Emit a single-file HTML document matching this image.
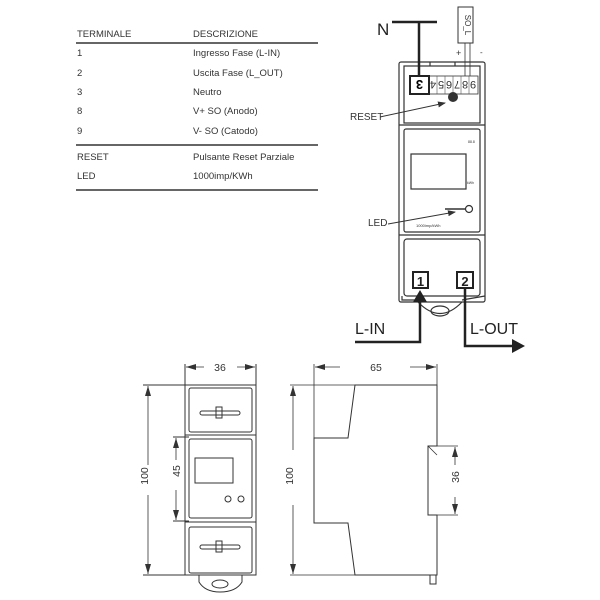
<!DOCTYPE html>
<html><head><meta charset="utf-8"><style>
html,body{margin:0;padding:0;background:#fff;}
svg{display:block;font-family:"Liberation Sans",sans-serif;}
</style></head><body>
<svg width="600" height="600" viewBox="0 0 600 600" xmlns="http://www.w3.org/2000/svg">
<defs>
<marker id="ah" markerWidth="8" markerHeight="6" refX="7" refY="3" orient="auto" markerUnits="userSpaceOnUse"><path d="M0,0 L8,3 L0,6z" fill="#333"/></marker>
<marker id="dm" markerWidth="10" markerHeight="6" refX="10" refY="3" orient="auto" markerUnits="userSpaceOnUse"><path d="M0,0 L10,3 L0,6z" fill="#333"/></marker>
</defs>
<g font-size="9.5" fill="#333">
<text x="77" y="37">TERMINALE</text><text x="193" y="37">DESCRIZIONE</text>
<line x1="76" y1="43" x2="318" y2="43" stroke="#333" stroke-width="1.5"/>
<text x="77" y="56">1</text><text x="193" y="56">Ingresso Fase (L-IN)</text>
<text x="77" y="76">2</text><text x="193" y="76">Uscita Fase (L_OUT)</text>
<text x="77" y="95">3</text><text x="193" y="95">Neutro</text>
<text x="77" y="114">8</text><text x="193" y="114">V+ SO (Anodo)</text>
<text x="77" y="134">9</text><text x="193" y="134">V- SO (Catodo)</text>
<line x1="76" y1="145" x2="318" y2="145" stroke="#333" stroke-width="1.5"/>
<text x="77" y="160">RESET</text><text x="193" y="160">Pulsante Reset Parziale</text>
<text x="77" y="179">LED</text><text x="193" y="179">1000imp/KWh</text>
<line x1="76" y1="190" x2="318" y2="190" stroke="#333" stroke-width="1.5"/>
</g>
<g fill="none" stroke="#333" stroke-width="1.2">
<rect x="399" y="62" width="86" height="240" rx="2"/>
<rect x="404" y="66" width="76" height="57"/>
<rect x="404" y="129" width="76" height="103" rx="2"/>
<rect x="411" y="154" width="55" height="35"/>
<rect x="404" y="239" width="76" height="57" rx="3"/>
<line x1="399" y1="125" x2="485" y2="125"/>
<line x1="399" y1="235" x2="485" y2="235"/>
<line x1="430" y1="62" x2="430" y2="66"/><line x1="455" y1="62" x2="455" y2="66"/>
<rect x="429" y="76" width="49" height="18" stroke-width="0.8"/>
<circle cx="469" cy="209" r="3.5"/>
<path d="M418,302 Q440,325 462,302"/>
<ellipse cx="440" cy="311" rx="9" ry="5"/>
<path d="M402,296 L402,300 L418,300 M485,296 L462,300"/>
</g>
<g stroke="#555" stroke-width="0.6">
<line x1="437" y1="76" x2="437" y2="94"/><line x1="445" y1="76" x2="445" y2="94"/><line x1="453" y1="76" x2="453" y2="94"/><line x1="461" y1="76" x2="461" y2="94"/><line x1="469" y1="76" x2="469" y2="94"/>
</g>
<g font-size="11" fill="#333" text-anchor="middle">
<text transform="translate(433,85) rotate(180)" y="4">4</text>
<text transform="translate(441,85) rotate(180)" y="4">5</text>
<text transform="translate(449,85) rotate(180)" y="4">6</text>
<text transform="translate(457,85) rotate(180)" y="4">7</text>
<text transform="translate(465,85) rotate(180)" y="4">8</text>
<text transform="translate(473,85) rotate(180)" y="4">9</text>
</g>
<rect x="410" y="76" width="19" height="18" fill="#fff" stroke="#222" stroke-width="2"/>
<text font-size="13" font-weight="bold" text-anchor="middle" transform="translate(419.5,85) rotate(180)" y="5">3</text>
<circle cx="453" cy="97" r="5" fill="#333"/>
<text x="468" y="143" font-size="3.5" fill="#333">88.8</text>
<text x="467" y="184" font-size="3.5" fill="#333">kWh</text>
<text x="416" y="227" font-size="4" fill="#333">1000imp/kWh</text>
<line x1="445" y1="209" x2="465" y2="209" stroke="#333" stroke-width="1.5"/>
<text x="377" y="35" font-size="17" fill="#222">N</text>
<line x1="392" y1="22" x2="437" y2="22" stroke="#222" stroke-width="2.5"/>
<line x1="419" y1="22" x2="419" y2="76" stroke="#222" stroke-width="2.5"/>
<rect x="458" y="7" width="15" height="36" fill="#fff" stroke="#333"/>
<text x="465" y="25" font-size="8" fill="#333" text-anchor="middle" transform="rotate(90 465 25)">SO_L</text>
<line x1="465" y1="43" x2="465" y2="76" stroke="#333" stroke-width="0.8"/>
<line x1="470" y1="43" x2="470" y2="76" stroke="#333" stroke-width="0.8"/>
<text x="456" y="56" font-size="9" fill="#333">+</text><text x="480" y="55" font-size="8" fill="#333">-</text>
<text x="350" y="120" font-size="10" fill="#333">RESET</text>
<line x1="380" y1="117" x2="445" y2="103" stroke="#333" marker-end="url(#ah)"/>
<text x="368" y="226" font-size="10" fill="#333">LED</text>
<line x1="388" y1="224" x2="455" y2="212" stroke="#333" marker-end="url(#ah)"/>
<rect x="413" y="272" width="15" height="16" fill="#fff" stroke="#222" stroke-width="2"/>
<text x="420.5" y="286" font-size="13" font-weight="bold" text-anchor="middle" fill="#222">1</text>
<rect x="457" y="272" width="16" height="16" fill="#fff" stroke="#222" stroke-width="2"/>
<text x="465" y="286" font-size="13" font-weight="bold" text-anchor="middle" fill="#222">2</text>
<path d="M355,342 L420,342 L420,300" fill="none" stroke="#222" stroke-width="2.5"/>
<path d="M413,302 L420,290 L427,302z" fill="#222"/>
<text x="355" y="334" font-size="16" fill="#222">L-IN</text>
<path d="M465,289 L465,346 L515,346" fill="none" stroke="#222" stroke-width="2.5"/>
<path d="M512,339 L525,346 L512,353z" fill="#222"/>
<text x="470" y="334" font-size="16" fill="#222">L-OUT</text>
<g fill="none" stroke="#333" stroke-width="1">
<rect x="185" y="385" width="71" height="190"/>
<rect x="189" y="388" width="63" height="44" rx="2"/>
<rect x="189" y="439" width="63" height="79" rx="2"/>
<rect x="189" y="527" width="63" height="46" rx="2"/>
<line x1="185" y1="435" x2="256" y2="435"/><line x1="185" y1="522" x2="256" y2="522"/>
<rect x="195" y="458" width="38" height="25"/>
<circle cx="228" cy="499" r="3"/><circle cx="241" cy="499" r="3"/>
<rect x="200" y="411" width="40" height="4" rx="2"/><rect x="216" y="407" width="6" height="11"/>
<rect x="200" y="545" width="40" height="4" rx="2"/><rect x="216" y="541" width="6" height="11"/>
<path d="M199,575 L199,582 Q205,592 220,592 Q236,592 242,582 L242,575"/>
<ellipse cx="220" cy="584" rx="8" ry="4"/>
<line x1="185" y1="364" x2="185" y2="385"/><line x1="256" y1="364" x2="256" y2="385"/>
<line x1="143" y1="385" x2="185" y2="385"/><line x1="143" y1="575" x2="185" y2="575"/>
<line x1="173" y1="437" x2="189" y2="437"/><line x1="173" y1="521" x2="189" y2="521"/>
</g>
<g stroke="#333" stroke-width="0.8" fill="none">
<line x1="204" y1="367" x2="186" y2="367" marker-end="url(#dm)"/><line x1="237" y1="367" x2="255" y2="367" marker-end="url(#dm)"/>
<line x1="148" y1="465" x2="148" y2="386" marker-end="url(#dm)"/><line x1="148" y1="495" x2="148" y2="574" marker-end="url(#dm)"/>
<line x1="176" y1="460" x2="176" y2="438" marker-end="url(#dm)"/><line x1="176" y1="490" x2="176" y2="520" marker-end="url(#dm)"/>
<line x1="314" y1="364" x2="314" y2="438"/><line x1="437" y1="364" x2="437" y2="385"/>
<line x1="340" y1="367" x2="315" y2="367" marker-end="url(#dm)"/><line x1="410" y1="367" x2="436" y2="367" marker-end="url(#dm)"/>
<line x1="290" y1="385" x2="355" y2="385"/><line x1="290" y1="575" x2="355" y2="575"/>
<line x1="293" y1="450" x2="293" y2="386" marker-end="url(#dm)"/><line x1="293" y1="505" x2="293" y2="574" marker-end="url(#dm)"/>
<line x1="437" y1="446" x2="458" y2="446"/><line x1="437" y1="515" x2="458" y2="515"/>
<line x1="455" y1="465" x2="455" y2="447" marker-end="url(#dm)"/><line x1="455" y1="497" x2="455" y2="514" marker-end="url(#dm)"/>
</g>
<path d="M355,385 L437,385 L437,446 L428,446 L428,515 L437,515 L437,575 L355,575 L348,523 L314,523 L314,438 L348,438 Z" fill="none" stroke="#333" stroke-width="1"/>
<line x1="428" y1="446" x2="437" y2="455" stroke="#333" stroke-width="0.8"/>
<path d="M430,575 L430,584 L436,584 L436,575" fill="none" stroke="#333"/>
<g font-size="10.5" fill="#333" text-anchor="middle">
<text x="220" y="371">36</text>
<text x="376" y="371">65</text>
<text x="152" y="480" transform="rotate(-90 148 480)">100</text>
<text x="180" y="479" transform="rotate(-90 176 475)">45</text>
<text x="297" y="480" transform="rotate(-90 293 480)">100</text>
<text x="459" y="485" transform="rotate(-90 455 481)">36</text>
</g>
</svg>
</body></html>
